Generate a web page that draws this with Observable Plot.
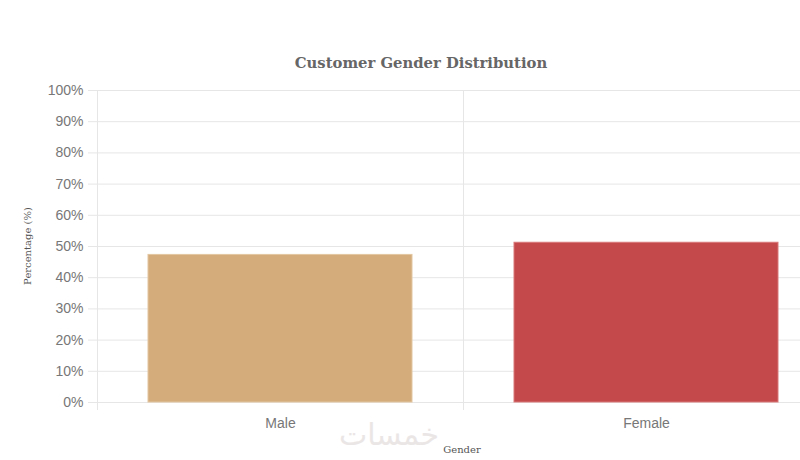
<!DOCTYPE html>
<html><head><meta charset="utf-8">
<script src="https://cdn.jsdelivr.net/npm/d3@7"></script>
<script src="https://cdn.jsdelivr.net/npm/@observablehq/plot@0.6"></script>
<style>
body{margin:0;background:#fff}
#wrap{position:relative;width:800px;height:460px;overflow:hidden}
#wrap svg{position:absolute;left:0;top:0}
.ov{position:absolute;white-space:nowrap;line-height:1}
</style>
</head><body><div id="wrap"></div>
<script>
const categories = ["Male", "Female"];
const percentages = [47.3, 51.2];
const yTicks = [0, 10, 20, 30, 40, 50, 60, 70, 80, 90, 100];
const barColors = ["#d4ab7b", "#c3494a"];
const barBorders = ["#e3c6a2", "#d97878"];
const title = "Customer Gender Distribution";
const xLabel = "Gender";
const yLabel = "Percentage (%)";
const watermark = "خمسات";

const data = categories.map((c, i) => ({gender: c, pct: percentages[i], fill: barColors[i], stroke: barBorders[i]}));
const xRange = [96.5, 828.5];
const halfStep = (xRange[1] - xRange[0]) / categories.length / 2;

const chart = Plot.plot({
  width: 800, height: 460,
  marginTop: 90, marginBottom: 50, marginLeft: 96, marginRight: 0,
  style: {fontFamily: "'Liberation Sans', Arial, sans-serif", background: "transparent"},
  x: {type: "band", domain: categories, range: xRange, padding: 0, label: null},
  y: {domain: [0, 100], range: [402, 90], label: null},
  marks: [
    Plot.gridY(yTicks, {stroke: "#e6e6e6", strokeOpacity: 1, insetLeft: -8}),
    Plot.ruleX(categories, {x: d => d, dx: -halfStep, stroke: "#e6e6e6"}),
    Plot.barY(data, {x: "gender", y: "pct", fill: "fill", stroke: "stroke", strokeWidth: 1, insetLeft: 51, insetRight: 51}),
    Plot.axisY(yTicks, {tickSize: 0, tickPadding: 13, tickFormat: d => d + "%", fontSize: 14, fill: "#777", label: null}),
    Plot.axisX({tickSize: 0, tickPadding: 8, fontSize: 14, fill: "#777", label: null})
  ]
});
const wrap = document.getElementById("wrap");
wrap.appendChild(chart);

function overlay(text, css) {
  const d = document.createElement("div");
  d.className = "ov";
  d.textContent = text;
  Object.assign(d.style, css);
  wrap.appendChild(d);
  return d;
}
overlay(title, {left: "0px", width: "842px", textAlign: "center", top: "56px", fontFamily: "'DejaVu Serif', serif", fontWeight: "bold", fontSize: "14.8px", color: "#666"});
overlay(watermark, {left: "334px", width: "110px", textAlign: "center", top: "420px", fontFamily: "'DejaVu Sans', sans-serif", fontSize: "30px", color: "#ebe6e6", direction: "rtl"});
overlay(xLabel, {left: "362px", width: "200px", textAlign: "center", top: "445px", fontFamily: "'DejaVu Serif', serif", fontSize: "10px", color: "#555"});
overlay(yLabel, {left: "-72px", width: "200px", textAlign: "center", top: "241px", fontFamily: "'DejaVu Serif', serif", fontSize: "10px", color: "#555", transform: "rotate(-90deg)"});
</script>
</body></html>
